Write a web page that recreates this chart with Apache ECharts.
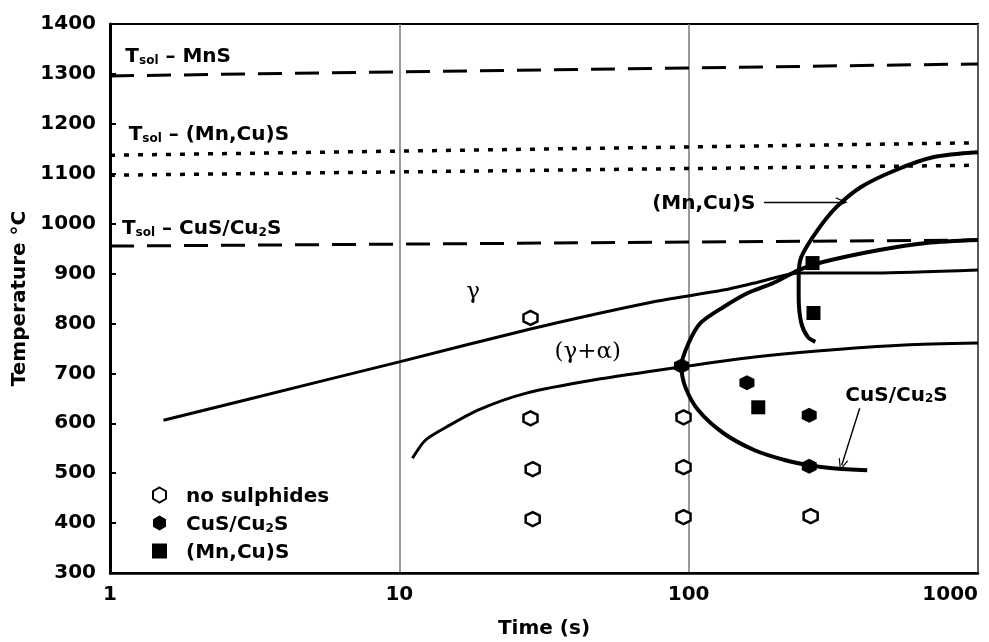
<!DOCTYPE html>
<html><head><meta charset="utf-8">
<script src="https://cdn.jsdelivr.net/npm/echarts@6/dist/echarts.min.js"></script>
<style>html,body{margin:0;padding:0;background:#fff}#c{width:989px;height:642px}</style>
</head><body><div id="c"></div><script>
// ---- data (time in s, temperature in °C) ----
const xTicks = [1, 10, 100, 1000];
const yTicks = [300, 400, 500, 600, 700, 800, 900, 1000, 1100, 1200, 1300, 1400];
const tsolMnS = [[1, 1296], [1000, 1320]];
const tsolMnCuSUpper = [[1, 1137], [1000, 1162]];
const tsolMnCuSLower = [[1, 1097], [1000, 1117]];
const tsolCuS = [[1, 955], [1000, 967]];
const gammaBoundary = [[1.53, 606], [5.42, 685], [10, 723], [28.4, 789], [78, 845], [132, 867], [169, 881], [240, 901], [446, 901], [1000, 907]];
const alphaBoundary = [[11.1, 530], [12.3, 566], [14.5, 592], [18.6, 626], [27.3, 660], [47.4, 687], [94.3, 713], [169, 733], [278, 745], [558, 757], [1000, 761]];
const cusCurve = [[1000, 967], [662, 961], [456, 947], [291, 923], [240, 907], [196, 881], [160, 861], [132, 833], [110, 801], [100, 761], [94.4, 715], [97.5, 672], [108, 626], [132, 580], [169, 546], [216, 526], [261, 516], [314, 510], [414, 506]];
const mncusCurve = [[274, 763], [258, 773], [245, 801], [240, 853], [240, 893], [245, 933], [279, 987], [324, 1033], [393, 1073], [518, 1107], [698, 1133], [1000, 1143]];
const noSulphides = [[28.4, 811], [28.4, 610], [28.9, 508], [28.9, 408], [96, 612], [96, 512], [96, 412], [264, 414]];
const cusPoints = [[94.4, 715], [159, 681], [261, 616], [261, 514]];
const mncusPoints = [[174, 632], [270, 821], [268, 921]];
const legendNames = ['no sulphides', 'CuS/Cu2S', '(Mn,Cu)S'];
const mncusArrow = [[182, 1043], [338, 1043]];
const cusArrow = [[390, 630], [338, 516]];

// ---- styling ----
const SANS = 'DejaVu Sans';
const HEX = 'path://M5,0 L9.33,2.5 L9.33,7.5 L5,10 L0.67,7.5 L0.67,2.5 Z';
const CHEVRON = 'path://M0,10 L5,0 L10,10 L8.8,10 L5,2.6 L1.2,10 Z';
const rich = {
  m: { fontFamily: SANS, fontWeight: 'bold', fontSize: 20, lineHeight: 24, verticalAlign: 'bottom', color: '#000' },
  s: { fontFamily: SANS, fontWeight: 'bold', fontSize: 12, lineHeight: 14, verticalAlign: 'bottom', color: '#000' },
  g: { width: 14 }
};
function lineSeries(name, data, type, width, smooth) {
  return { name, type: 'line', data, symbol: 'none', smooth: smooth || false, silent: true,
    lineStyle: { color: '#000', width, type, cap: 'butt' }, z: 3 };
}
const option = {
  animation: false,
  backgroundColor: '#fff',
  grid: { left: 110, right: 11, top: 24, bottom: 69, show: true, borderColor: '#000', borderWidth: 2,
    containLabel: false, outerBoundsMode: 'none' },
  xAxis: {
    type: 'log', logBase: 10, min: xTicks[0], max: xTicks[xTicks.length - 1],
    name: 'Time (s)', nameLocation: 'middle', nameGap: 46,
    nameTextStyle: { fontFamily: SANS, fontWeight: 'bold', fontSize: 20, color: '#000' },
    axisLine: { lineStyle: { color: '#000', width: 2.5 } },
    axisTick: { show: false },
    axisLabel: { fontFamily: SANS, fontWeight: 'bold', fontSize: 20, color: '#000', margin: 12, alignMaxLabel: 'right',
      formatter: v => String(Math.round(v)) },
    splitLine: { show: true, lineStyle: { color: '#777', width: 1.5 } }
  },
  yAxis: {
    type: 'value', min: yTicks[0], max: yTicks[yTicks.length - 1], interval: 100,
    name: 'Temperature °C', nameLocation: 'middle', nameGap: 76,
    nameTextStyle: { fontFamily: SANS, fontWeight: 'bold', fontSize: 20, color: '#000' },
    axisLine: { lineStyle: { color: '#000', width: 3 } },
    axisTick: { show: true, inside: true, length: 6, lineStyle: { color: '#000', width: 2 } },
    axisLabel: { fontFamily: SANS, fontWeight: 'bold', fontSize: 20, color: '#000', margin: 14,
      formatter: v => String(v) },
    splitLine: { show: false }
  },
  legend: {
    data: legendNames, orient: 'vertical', left: 147, top: 480, itemWidth: 15, itemHeight: 15, itemGap: 6,
    textStyle: { rich, fontFamily: SANS, fontWeight: 'bold', fontSize: 20, color: '#000' },
    formatter: n => n === 'CuS/Cu2S' ? '{g|}{m|CuS/Cu}{s|2}{m|S}' : '{g|}{m|' + n + '}',
    selectedMode: false
  },
  series: [
    lineSeries('Tsol MnS', tsolMnS, [24, 13], 3),
    lineSeries('Tsol (Mn,Cu)S upper', tsolMnCuSUpper, [5, 9], 3.5),
    lineSeries('Tsol (Mn,Cu)S lower', tsolMnCuSLower, [5, 9], 3.5),
    lineSeries('Tsol CuS', tsolCuS, [24, 13], 3),
    lineSeries('gamma boundary', gammaBoundary, 'solid', 3, 0.2),
    lineSeries('alpha boundary', alphaBoundary, 'solid', 3, 0.25),
    Object.assign(lineSeries('CuS/Cu2S curve', cusCurve, 'solid', 4, 0.3), {
      markLine: {
        silent: true, symbol: ['none', CHEVRON], symbolSize: [10, 12], label: { show: false },
        lineStyle: { color: '#000', width: 1.4, type: 'solid' },
        data: [
          [{ coord: mncusArrow[0] }, { coord: mncusArrow[1] }],
          [{ coord: cusArrow[0] }, { coord: cusArrow[1] }]
        ]
      }
    }),
    lineSeries('(Mn,Cu)S curve', mncusCurve, 'solid', 4, 0.3),
    { name: legendNames[0], type: 'scatter', data: noSulphides, symbol: HEX, symbolSize: 14, silent: true, z: 5,
      itemStyle: { color: '#fff', borderColor: '#000', borderWidth: 2.5, opacity: 1 } },
    { name: legendNames[1], type: 'scatter', data: cusPoints, symbol: HEX, symbolSize: 15, silent: true, z: 5,
      itemStyle: { color: '#000', opacity: 1 } },
    { name: legendNames[2], type: 'scatter', data: mncusPoints, symbol: 'rect', symbolSize: 14, silent: true, z: 5,
      itemStyle: { color: '#000', opacity: 1 } }
  ]
};
const chart = echarts.init(document.getElementById('c'));
chart.setOption(option);

const annotations = [
  { text: '{m|T}{s|sol}{m| – MnS}', at: [1.13, 1338], align: 'left' },
  { text: '{m|T}{s|sol}{m| – (Mn,Cu)S}', at: [1.16, 1182], align: 'left' },
  { text: '{m|T}{s|sol}{m| – CuS/Cu}{s|2}{m|S}', at: [1.10, 993], align: 'left' },
  { text: '{m|(Mn,Cu)S}', at: [74.8, 1043], align: 'left' },
  { text: '{m|CuS/Cu}{s|2}{m|S}', at: [348, 660], align: 'left' },
  { text: '{r|γ}', at: [18, 863], align: 'center' },
  { text: '{r|(γ+α)}', at: [44.8, 743], align: 'center' }
];
const annRich = Object.assign({}, rich, {
  r: { fontFamily: 'DejaVu Serif', fontSize: 23, lineHeight: 28, color: '#000' }
});
chart.setOption({
  graphic: annotations.map(a => {
    const p = chart.convertToPixel({ gridIndex: 0 }, a.at);
    return { type: 'text', x: p[0], y: p[1], silent: true, z: 10,
      style: { text: a.text, rich: annRich, align: a.align, verticalAlign: 'middle',
        textAlign: a.align, textVerticalAlign: 'middle', fill: '#000' } };
  })
});
</script></body></html>
